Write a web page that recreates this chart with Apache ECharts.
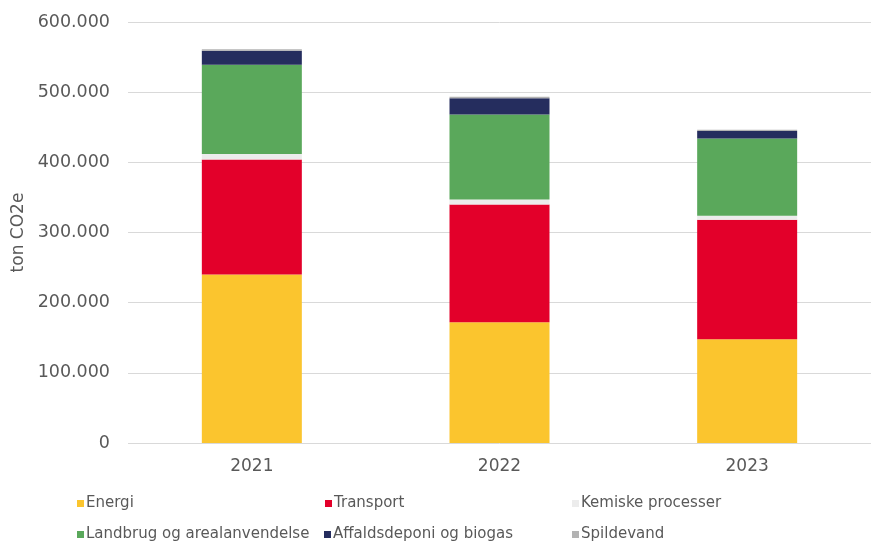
<!DOCTYPE html>
<html>
<head>
<meta charset="utf-8">
<script src="https://cdn.jsdelivr.net/npm/echarts@6/dist/echarts.min.js"></script>
<style>
  html, body { margin: 0; padding: 0; background: #fff; }
  #chart { width: 871px; height: 544px; }
</style>
</head>
<body>
<div id="chart"></div>
<script>
const years = ['2021', '2022', '2023']
const energi = [240000, 172000, 148000]
const transport = [164000, 168000, 170000]
const kemiske = [8000, 7000, 6000]
const landbrug = [127000, 121000, 110000]
const affald = [20000, 23500, 10500]
const spildevand = [2000, 2000, 2000]

const names = ['Energi', 'Transport', 'Kemiske processer', 'Landbrug og arealanvendelse', 'Affaldsdeponi og biogas', 'Spildevand']
const colors = ['#fbc52e', '#e3002a', '#ececec', '#5aa85b', '#252d5e', '#b3b3b3']
const values = [energi, transport, kemiske, landbrug, affald, spildevand]
// legend is laid out like the excel one: 3 columns x 2 rows
const legendPos = [[72, 491], [320, 491], [567, 491], [72, 522], [319, 522], [567, 522]]

const fmt = (v) => String(v).replace(/\B(?=(\d{3})+(?!\d))/g, '.')

const chart = echarts.init(document.getElementById('chart'))
chart.setOption({
  animation: false,
  textStyle: { fontFamily: 'DejaVu Sans' },
  grid: { left: 128, right: 0, top: 22, bottom: 101 },
  legend: names.map((n, i) => ({
    data: [n], left: legendPos[i][0], top: legendPos[i][1],
    itemWidth: 7, itemHeight: 7, icon: 'rect',
    textStyle: { color: '#595959', fontSize: 15, padding: [0, 0, 0, -3] },
  })),
  xAxis: {
    type: 'category', data: years,
    axisLine: { show: false }, axisTick: { show: false },
    axisLabel: { color: '#595959', fontSize: 17, margin: 15 },
  },
  yAxis: {
    type: 'value', min: 0, max: 600000, interval: 100000,
    name: 'ton CO2e', nameLocation: 'middle', nameGap: 96, nameRotate: 90,
    nameTextStyle: { color: '#595959', fontSize: 17 },
    axisLine: { show: false }, axisTick: { show: false },
    axisLabel: { color: '#595959', fontSize: 17.5, margin: 18, formatter: fmt },
    splitLine: { lineStyle: { color: '#d9d9d9', width: 1 } },
  },
  series: names.map((n, i) => ({
    name: n, type: 'bar', stack: 'total', barWidth: 100,
    itemStyle: { color: colors[i] },
    data: values[i],
  })),
})
</script>
</body>
</html>
